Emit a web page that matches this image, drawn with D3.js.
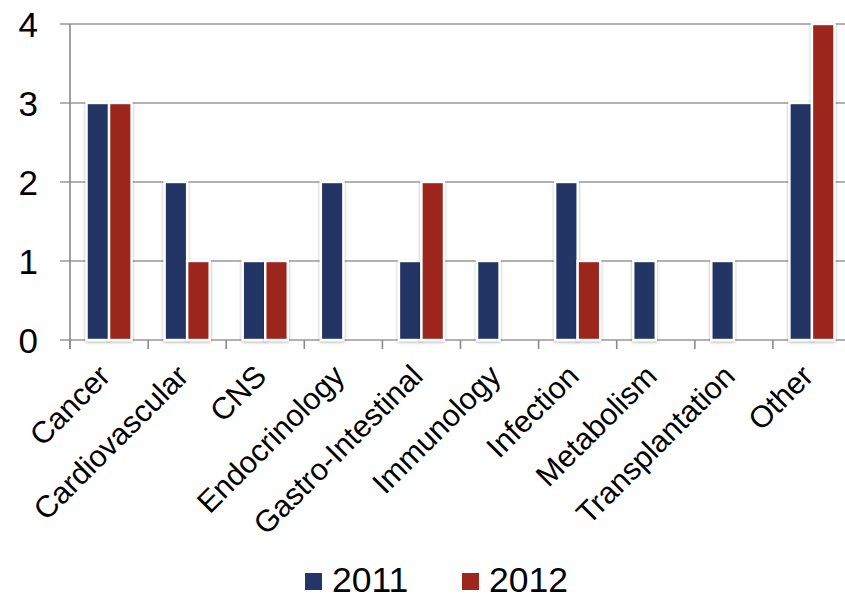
<!DOCTYPE html>
<html>
<head>
<meta charset="utf-8">
<script src="https://cdn.jsdelivr.net/npm/d3@7"></script>
<style>
  html, body { margin: 0; padding: 0; background: #fff; }
  svg { display: block; font-family: "Liberation Sans", Arial, Helvetica, sans-serif; }
</style>
</head>
<body>
<script>
// Therapeutic areas and counts per year
const categories = ["Cancer", "Cardiovascular", "CNS", "Endocrinology", "Gastro-Intestinal",
                    "Immunology", "Infection", "Metabolism", "Transplantation", "Other"];
const values2011 = [3, 2, 1, 2, 1, 1, 2, 1, 1, 3];
const values2012 = [3, 1, 1, 0, 2, 0, 1, 0, 0, 4];
const seriesNames = ["2011", "2012"];
const seriesColors = ["#243665", "#9d261d"];
const yTicks = [0, 1, 2, 3, 4];

const W = 845, H = 595;
const plotLeft = 70, plotTop = 24, plotBottom = 340, plotRight = 851;

const svg = d3.select("body").append("svg").attr("width", W).attr("height", H);

const defs = svg.append("defs");
const shadow = defs.append("filter").attr("id", "barShadow")
  .attr("x", "-30%").attr("y", "-10%").attr("width", "160%").attr("height", "120%");
shadow.append("feGaussianBlur").attr("in", "SourceAlpha").attr("stdDeviation", 1.6).attr("result", "b");
shadow.append("feOffset").attr("in", "b").attr("dx", 0).attr("dy", 0.5).attr("result", "o");
shadow.append("feComponentTransfer").attr("in", "o").attr("result", "s")
  .append("feFuncA").attr("type", "linear").attr("slope", 0.35);
const merge = shadow.append("feMerge");
merge.append("feMergeNode").attr("in", "s");
merge.append("feMergeNode").attr("in", "SourceGraphic");

const x = d3.scaleBand().domain(categories).range([plotLeft, plotRight]).paddingInner(0).paddingOuter(0);
const y = d3.scaleLinear().domain([0, 4]).range([plotBottom, plotTop]);
const inner = d3.scaleBand().domain(seriesNames).range([0, 45]);
const groupOffset = (x.bandwidth() - 45) / 2;

// horizontal gridlines
svg.append("g").selectAll("line").data(yTicks).join("line")
  .attr("x1", plotLeft - 10).attr("x2", W)
  .attr("y1", d => y(d)).attr("y2", d => y(d))
  .attr("stroke", "#999").attr("stroke-width", 1.6);

// y axis line
svg.append("line").attr("x1", plotLeft).attr("x2", plotLeft).attr("y1", y(4)).attr("y2", plotBottom + 9)
  .attr("stroke", "#8a8a8a").attr("stroke-width", 1.6);

// category tick marks
svg.append("g").selectAll("line").data(categories).join("line")
  .attr("x1", d => x(d)).attr("x2", d => x(d))
  .attr("y1", plotBottom).attr("y2", plotBottom + 9)
  .attr("stroke", "#8a8a8a").attr("stroke-width", 1.6);

// y tick labels
svg.append("g").selectAll("text").data(yTicks).join("text")
  .attr("x", 38).attr("y", d => y(d)).attr("dy", "0.36em")
  .attr("text-anchor", "end").attr("font-size", 35).attr("fill", "#000")
  .text(d => d);

// bars
const rows = categories.map((c, i) => ({ c, v: [values2011[i], values2012[i]] }));
const groups = svg.append("g").selectAll("g").data(rows).join("g")
  .attr("transform", d => `translate(${x(d.c) + groupOffset},0)`);
groups.selectAll("rect").data(d => d.v.map((v, k) => ({ v, k })).filter(e => e.v > 0)).join("rect")
  .attr("x", d => inner(seriesNames[d.k]))
  .attr("width", inner.bandwidth())
  .attr("y", d => y(d.v))
  .attr("height", d => plotBottom - y(d.v))
  .attr("fill", d => seriesColors[d.k])
  .attr("stroke", "#fff").attr("stroke-width", 2.4)
  .attr("filter", "url(#barShadow)");

// category labels
svg.append("g").selectAll("text").data(categories).join("text")
  .attr("transform", d => `translate(${x(d) + x.bandwidth() / 2 + 3},378) rotate(-45)`)
  .attr("text-anchor", "end").attr("font-size", 30.5).attr("fill", "#000")
  .text(d => d);

// legend
const legend = svg.append("g");
const legendX = [305, 462];
seriesNames.forEach((name, k) => {
  legend.append("rect").attr("x", legendX[k]).attr("y", 573).attr("width", 17).attr("height", 17)
    .attr("fill", seriesColors[k]);
  legend.append("text").attr("x", legendX[k] + 27).attr("y", 592)
    .attr("font-size", 35.5).attr("fill", "#000").text(name);
});
</script>
</body>
</html>
